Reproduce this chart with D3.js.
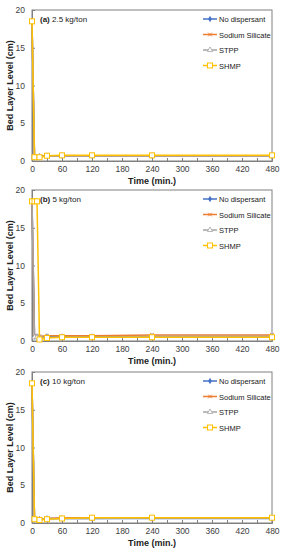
<!DOCTYPE html>
<html>
<head>
<meta charset="utf-8">
<script src="https://cdn.jsdelivr.net/npm/d3@7"></script>
<style>
  body { margin: 0; background: #fff; }
  svg { display: block; font-family: "Liberation Sans", Arial, sans-serif; }
</style>
</head>
<body>
<div id="chart"></div>
<script>
// series names and colours (Excel default palette)
var seriesNames = ["No dispersant", "Sodium Silicate", "STPP", "SHMP"];
var seriesColors = ["#4472C4", "#ED7D31", "#A5A5A5", "#FFC000"];

// panel (a) 2.5 kg/ton
var timesA = [0, 5, 15, 30, 60, 120, 240, 480];
var noDispA = [18.5, 0.5, 0.6, 0.7, 0.7, 0.7, 0.7, 0.7];
var silicateA = [18.5, 0.5, 0.6, 0.7, 0.7, 0.7, 0.7, 0.7];
var stppA = [18.5, 0.5, 0.6, 0.65, 0.7, 0.7, 0.7, 0.7];
var shmpA = [18.5, 0.5, 0.5, 0.7, 0.75, 0.75, 0.75, 0.75];

// panel (b) 5 kg/ton
var timesB = [0, 5, 10, 15, 30, 60, 120, 240, 480];
var noDispB = [18.5, 0.6, 0.6, 0.6, 0.6, 0.6, 0.6, 0.6, 0.6];
var silicateB = [18.5, 0.6, 0.6, 0.6, 0.7, 0.7, 0.7, 0.8, 0.8];
var stppB = [18.5, 0.5, 0.5, 0.5, 0.5, 0.5, 0.5, 0.6, 0.6];
var shmpB = [18.5, 18.5, 18.5, 0.2, 0.4, 0.5, 0.5, 0.5, 0.5];

// panel (c) 10 kg/ton
var timesC = [0, 5, 15, 30, 60, 120, 240, 480];
var noDispC = [18.5, 0.5, 0.5, 0.6, 0.6, 0.6, 0.6, 0.6];
var silicateC = [18.5, 0.5, 0.5, 0.6, 0.7, 0.7, 0.7, 0.7];
var stppC = [18.5, 0.5, 0.5, 0.55, 0.6, 0.6, 0.65, 0.65];
var shmpC = [18.5, 0.5, 0.4, 0.5, 0.6, 0.7, 0.7, 0.7];

var xTicks = [0, 60, 120, 180, 240, 300, 360, 420, 480];
var yTicks = [0, 5, 10, 15, 20];

var panels = [
  {tag: "(a)", label: " 2.5 kg/ton", times: timesA, series: [noDispA, silicateA, stppA, shmpA], top: 10},
  {tag: "(b)", label: " 5 kg/ton", times: timesB, series: [noDispB, silicateB, stppB, shmpB], top: 190},
  {tag: "(c)", label: " 10 kg/ton", times: timesC, series: [noDispC, silicateC, stppC, shmpC], top: 372}
];

var W = 284, H = 550;
var left = 32, right = 272, ph = 151;

var svg = d3.select("#chart").append("svg")
  .attr("width", W).attr("height", H);

function drawMarker(g, k, x, y) {
  var c = seriesColors[k];
  if (k == 0) {
    g.append("path").attr("d", d3.symbol().type(d3.symbolDiamond).size(12)())
      .attr("transform", "translate(" + x + "," + y + ")").attr("fill", c);
  } else if (k == 1) {
    g.append("path").attr("d", d3.symbol().type(d3.symbolX).size(10)())
      .attr("transform", "translate(" + x + "," + y + ")").attr("fill", "none").attr("stroke", c).attr("stroke-width", 1);
  } else if (k == 2) {
    g.append("path").attr("d", d3.symbol().type(d3.symbolTriangle).size(12)())
      .attr("transform", "translate(" + x + "," + y + ")").attr("fill", "#fff").attr("stroke", c).attr("stroke-width", 0.8);
  } else {
    g.append("rect").attr("x", x - 2.5).attr("y", y - 2.5).attr("width", 5).attr("height", 5)
      .attr("fill", "#fff").attr("stroke", c).attr("stroke-width", 1);
  }
}

panels.forEach(function(p) {
  var g = svg.append("g");
  var x = d3.scaleLinear().domain([0, 480]).range([left, right]);
  var y = d3.scaleLinear().domain([0, 20]).range([p.top + ph, p.top]);

  // plot frame
  g.append("rect").attr("x", left).attr("y", p.top).attr("width", right - left).attr("height", ph)
    .attr("fill", "none").attr("stroke", "#808080").attr("stroke-width", 1);

  // x axis
  var xa = g.append("g").attr("transform", "translate(0," + (p.top + ph) + ")")
    .call(d3.axisBottom(x).tickValues(d3.range(0, 481, 30)).tickSize(-3).tickFormat(""));
  xa.select(".domain").attr("stroke", "#808080");
  xa.selectAll(".tick line").attr("stroke", "#808080");
  g.append("g").attr("transform", "translate(0," + (p.top + ph) + ")")
    .call(d3.axisBottom(x).tickValues(xTicks).tickSize(0).tickPadding(5))
    .call(function(a) {
      a.select(".domain").remove();
      a.selectAll("text").attr("font-size", 8.5).attr("fill", "#404040").attr("font-family", "Liberation Sans, Arial, sans-serif");
    });

  // y axis
  var ya = g.append("g").attr("transform", "translate(" + left + ",0)")
    .call(d3.axisLeft(y).tickValues(yTicks).tickSize(-3).tickPadding(7));
  ya.select(".domain").attr("stroke", "#808080");
  ya.selectAll(".tick line").attr("stroke", "#808080");
  ya.selectAll("text").attr("font-size", 8.5).attr("fill", "#404040").attr("font-family", "Liberation Sans, Arial, sans-serif");

  // axis titles
  g.append("text").attr("x", (left + right) / 2).attr("y", p.top + ph + 23)
    .attr("text-anchor", "middle").attr("font-size", 9).attr("font-weight", "bold").attr("fill", "#222")
    .text("Time (min.)");
  g.append("text").attr("transform", "translate(13," + (p.top + ph / 2) + ") rotate(-90)")
    .attr("text-anchor", "middle").attr("font-size", 9).attr("font-weight", "bold").attr("fill", "#222")
    .text("Bed Layer Level (cm)");

  // panel label
  var lab = g.append("text").attr("x", 40).attr("y", p.top + 12).attr("font-size", 8).attr("fill", "#222");
  lab.append("tspan").attr("font-weight", "bold").text(p.tag);
  lab.append("tspan").text(p.label);

  // series
  var line = d3.line().x(function(d) { return x(d[0]); }).y(function(d) { return y(d[1]); });
  p.series.forEach(function(vals, k) {
    var pts = p.times.map(function(t, i) { return [t, vals[i]]; });
    g.append("path").datum(pts).attr("d", line).attr("fill", "none")
      .attr("stroke", seriesColors[k]).attr("stroke-width", 1.5);
    pts.forEach(function(d) { drawMarker(g, k, x(d[0]), y(d[1])); });
  });

  // legend
  seriesNames.forEach(function(name, k) {
    var ly = p.top + 9 + k * 15.5;
    g.append("line").attr("x1", 203).attr("x2", 217).attr("y1", ly).attr("y2", ly)
      .attr("stroke", seriesColors[k]).attr("stroke-width", 1.5);
    drawMarker(g, k, 210, ly);
    g.append("text").attr("x", 219).attr("y", ly + 3).attr("font-size", 7.5).attr("fill", "#222").text(name);
  });
});
</script>
</body>
</html>
